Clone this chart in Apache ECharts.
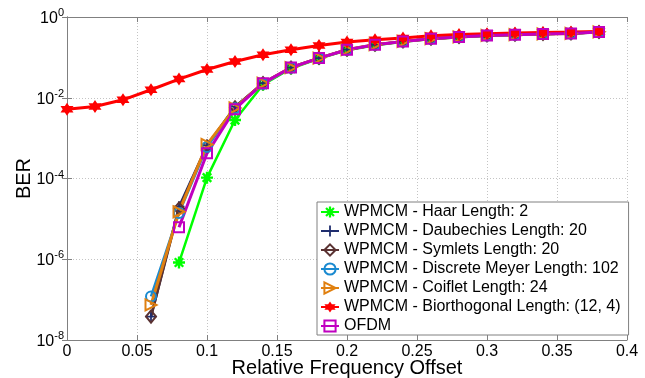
<!DOCTYPE html>
<html>
<head>
<meta charset="utf-8">
<script src="https://cdn.jsdelivr.net/npm/echarts@6/dist/echarts.min.js"></script>
<style>
  html, body { margin: 0; padding: 0; background: #fff; }
  #chart { width: 645px; height: 378px; }
</style>
</head>
<body>
<div id="chart"></div>
<script>
// ---- data ----
const xValues = [0, 0.02, 0.04, 0.06, 0.08, 0.10, 0.12, 0.14, 0.16, 0.18, 0.20, 0.22, 0.24, 0.26, 0.28, 0.30, 0.32, 0.34, 0.36, 0.38];
const haar   = [null, null, null, null, 8.3e-7, 1.05e-4, 2.8e-3, 0.021, 0.053, 0.093, 0.150, 0.200, 0.243, 0.285, 0.316, 0.345, 0.360, 0.377, 0.388, 0.420];
const daub   = [null, null, null, 3.8e-8, 2.0e-5, 6.6e-4, 6.0e-3, 0.023, 0.056, 0.096, 0.155, 0.205, 0.248, 0.289, 0.320, 0.350, 0.364, 0.380, 0.390, 0.425];
const sym    = [null, null, null, 3.8e-8, 1.8e-5, 6.3e-4, 5.8e-3, 0.023, 0.056, 0.097, 0.155, 0.206, 0.249, 0.290, 0.321, 0.349, 0.365, 0.381, 0.391, 0.426];
const meyer  = [null, null, null, 1.2e-7, 1.4e-5, 6.0e-4, 5.5e-3, 0.022, 0.055, 0.095, 0.154, 0.204, 0.247, 0.288, 0.319, 0.348, 0.363, 0.379, 0.389, 0.424];
const coif   = [null, null, null, 7.4e-8, 1.5e-5, 7.0e-4, 5.6e-3, 0.023, 0.056, 0.096, 0.156, 0.206, 0.249, 0.290, 0.321, 0.351, 0.365, 0.381, 0.391, 0.430];
const bior   = [5.2e-3, 6.1e-3, 8.9e-3, 1.58e-2, 2.9e-2, 5.0e-2, 7.9e-2, 0.116, 0.155, 0.198, 0.240, 0.274, 0.300, 0.344, 0.370, 0.385, 0.400, 0.415, 0.425, 0.440];
const ofdm   = [null, null, null, null, 6.2e-6, 4.2e-4, 5.2e-3, 0.023, 0.056, 0.096, 0.155, 0.206, 0.248, 0.290, 0.320, 0.350, 0.364, 0.380, 0.390, 0.425];

const seriesNames = [
  'WPMCM - Haar Length: 2',
  'WPMCM - Daubechies Length: 20',
  'WPMCM - Symlets Length: 20',
  'WPMCM - Discrete Meyer Length: 102',
  'WPMCM - Coiflet Length: 24',
  'WPMCM - Biorthogonal Length: (12, 4)',
  'OFDM'
];
const xTickStep = 0.05;
const yTickExponents = [-8, -6, -4, -2, 0];
const xTitle = 'Relative Frequency Offset';
const yTitle = 'BER';

// ---- styles ----
const FONT = 'Liberation Sans, Arial, sans-serif';
const AXIS_GRAY = '#808080';
const GRID_GRAY = '#c4c4c4';
const CLEAR = 'rgba(255,255,255,0)';

const asteriskPath = 'path://M-10,-2L10,-2L10,2L-10,2Z M-2,-10L2,-10L2,10L-2,10Z M-5.66,-8.49L8.49,5.66L5.66,8.49L-8.49,-5.66Z M-8.49,5.66L5.66,-8.49L8.49,-5.66L-5.66,8.49Z';
const plusPath = 'path://M-10,-1.6L10,-1.6L10,1.6L-10,1.6Z M-1.6,-10L1.6,-10L1.6,10L-1.6,10Z';
const hexagramPath = 'path://M0,-10L2.887,-5L8.66,-5L5.774,0L8.66,5L2.887,5L0,10L-2.887,5L-8.66,5L-5.774,0L-8.66,-5L-2.887,-5Z';
const diamondPath = 'path://M0,-10L8,0L0,10L-8,0Z';
const rightTriPath = 'path://M-8,-9L9,0L-8,9Z';

function pairs(ys) {
  const out = [];
  for (let i = 0; i < xValues.length; i++) {
    if (ys[i] != null) out.push([xValues[i], ys[i]]);
  }
  return out;
}

const seriesDefs = [
  { data: haar,  color: '#00ff00', symbol: asteriskPath, size: 12, width: 2.5, hollow: false },
  { data: daub,  color: '#1f2d6e', symbol: plusPath, size: 11, width: 2.5, hollow: false },
  { data: sym,   color: '#5a3232', symbol: diamondPath, size: [10, 12], width: 2.5, hollow: true },
  { data: meyer, color: '#1a8ad0', symbol: 'circle', size: 10, width: 2.5, hollow: true },
  { data: coif,  color: '#e08010', symbol: rightTriPath, size: 11, width: 3, hollow: true },
  { data: bior,  color: '#ff0000', symbol: hexagramPath, size: 13, width: 3, hollow: false },
  { data: ofdm,  color: '#c000c0', symbol: 'rect', size: 10, width: 3, hollow: true }
];

const series = seriesDefs.map((d, i) => ({
  name: seriesNames[i],
  type: 'line',
  data: pairs(d.data),
  xAxisIndex: 0,
  yAxisIndex: 0,
  symbol: d.symbol,
  symbolSize: d.size,
  showAllSymbol: true,
  animation: false,
  itemStyle: d.hollow
    ? { color: CLEAR, borderColor: d.color, borderWidth: 2 }
    : { color: d.color, borderWidth: 0 },
  lineStyle: { color: d.color, width: d.width },
  emphasis: { disabled: true }
}));

const chart = echarts.init(document.getElementById('chart'), null, { renderer: 'canvas' });

const supLabel = function (v) {
  const e = Math.round(Math.log10(v));
  return '{b|10}{s|' + e + '}';
};

chart.setOption({
  animation: false,
  backgroundColor: '#fff',
  textStyle: { fontFamily: FONT },
  grid: { left: 67, right: 18, top: 17, bottom: 38, containLabel: false, outerBoundsMode: 'none' },
  legend: {
    orient: 'vertical',
    left: 317,
    top: 202,
    padding: [2, 8, 1, 3],
    itemGap: 3,
    itemWidth: 18,
    itemHeight: 14,
    backgroundColor: '#fff',
    borderColor: AXIS_GRAY,
    borderWidth: 1,
    borderRadius: 0,
    selectedMode: false,
    textStyle: { fontFamily: FONT, fontSize: 16, color: '#000' },
    data: seriesNames
  },
  xAxis: [
    {
      type: 'value', position: 'bottom',
      min: 0, max: 0.4, interval: xTickStep,
      name: xTitle, nameLocation: 'middle', nameGap: 18, nameMoveOverlap: false,
      nameTextStyle: { fontFamily: FONT, fontSize: 20, color: '#000' },
      axisLine: { show: true, lineStyle: { color: AXIS_GRAY, width: 1 } },
      axisTick: { show: true, inside: true, length: 5, lineStyle: { color: AXIS_GRAY } },
      axisLabel: { fontFamily: FONT, fontSize: 16, color: '#000', margin: 4 },
      splitLine: { show: true, lineStyle: { color: GRID_GRAY, type: [1, 2], width: 1 } }
    },
    {
      type: 'value', position: 'top',
      min: 0, max: 0.4, interval: xTickStep,
      axisLine: { show: true, lineStyle: { color: AXIS_GRAY, width: 1 } },
      axisTick: { show: true, inside: true, length: 5, lineStyle: { color: AXIS_GRAY } },
      axisLabel: { show: false },
      splitLine: { show: false }
    }
  ],
  yAxis: [
    {
      type: 'log', logBase: 100, position: 'left',
      min: Math.pow(10, yTickExponents[0]), max: Math.pow(10, yTickExponents[yTickExponents.length - 1]),
      name: yTitle, nameLocation: 'middle', nameGap: 33, nameMoveOverlap: false,
      nameTextStyle: { fontFamily: FONT, fontSize: 20, color: '#000' },
      axisLine: { show: true, lineStyle: { color: AXIS_GRAY, width: 1 } },
      axisTick: { show: true, inside: true, length: 5, lineStyle: { color: AXIS_GRAY } },
      axisLabel: {
        margin: 3,
        formatter: supLabel,
        rich: {
          b: { fontFamily: FONT, fontSize: 16, color: '#000', padding: [3, 0, 0, 0] },
          s: { fontFamily: FONT, fontSize: 11, color: '#000', padding: [0, 0, 8, 0] }
        }
      },
      splitLine: { show: true, lineStyle: { color: GRID_GRAY, type: [1, 2], width: 1 } }
    },
    {
      type: 'log', logBase: 100, position: 'right',
      min: Math.pow(10, yTickExponents[0]), max: Math.pow(10, yTickExponents[yTickExponents.length - 1]),
      axisLine: { show: true, lineStyle: { color: AXIS_GRAY, width: 1 } },
      axisTick: { show: true, inside: true, length: 5, lineStyle: { color: AXIS_GRAY } },
      axisLabel: { show: false },
      splitLine: { show: false }
    }
  ],
  series: series
});
</script>
</body>
</html>
